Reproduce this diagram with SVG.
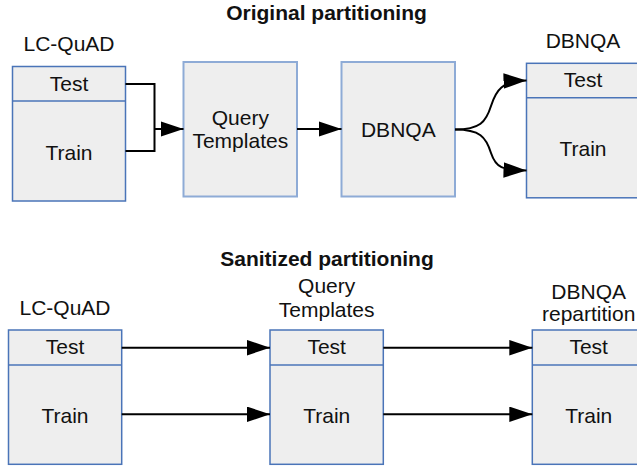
<svg xmlns="http://www.w3.org/2000/svg" width="637" height="467" viewBox="0 0 637 467">
  <style>
    .box { fill: #eeeeee; stroke: #4a74b8; stroke-width: 1.5; }
    .box-soft { fill: #eeeeee; stroke: #8eabd6; stroke-width: 2; }
    .div { stroke: #4a74b8; stroke-width: 1.5; fill: none; }
    .lbl { font-family: "Liberation Sans", Arial, sans-serif; font-size: 21px; fill: #111111; text-anchor: middle; }
    .title { font-family: "Liberation Sans", Arial, sans-serif; font-size: 21px; font-weight: bold; fill: #111111; text-anchor: middle; }
    .edge { stroke: #000000; stroke-width: 2; fill: none; }
  </style>
  <defs>
    <marker id="block" markerUnits="userSpaceOnUse" markerWidth="24" markerHeight="16" refX="23" refY="7.75" orient="auto">
      <path d="M0,0 L23,7.75 L0,15.5 z" fill="#000000"/>
    </marker>
  </defs>
  <rect width="637" height="467" fill="#ffffff"/>

  <!-- Section titles -->
  <text class="title" x="326.5" y="20">Original partitioning</text>
  <text class="title" x="327" y="266">Sanitized partitioning</text>

  <!-- Original: LC-QuAD split -->
  <g id="lcquad-orig">
    <text class="lbl" x="69" y="51">LC-QuAD</text>
    <rect class="box" x="12.5" y="66.5" width="113" height="134.5"/>
    <line class="div" x1="12.5" y1="101" x2="125.5" y2="101"/>
    <text class="lbl" x="69" y="91">Test</text>
    <text class="lbl" x="69" y="159.5">Train</text>
  </g>

  <!-- Original: Query Templates -->
  <g id="templates-orig">
    <rect class="box-soft" x="183.5" y="62" width="113.5" height="134.5"/>
    <text class="lbl" x="240.3" y="125">Query</text>
    <text class="lbl" x="240.3" y="148.3">Templates</text>
  </g>

  <!-- Original: DBNQA -->
  <g id="dbnqa-orig">
    <rect class="box-soft" x="341.5" y="62" width="113.5" height="134.5"/>
    <text class="lbl" x="398.3" y="136.7">DBNQA</text>
  </g>

  <!-- Original: DBNQA split -->
  <g id="dbnqa-split-orig">
    <text class="lbl" x="583" y="48.3">DBNQA</text>
    <rect class="box" x="526.5" y="63.3" width="113" height="134.5"/>
    <line class="div" x1="526.5" y1="97.7" x2="639.5" y2="97.7"/>
    <text class="lbl" x="583" y="87.3">Test</text>
    <text class="lbl" x="583" y="156">Train</text>
  </g>

  <!-- Sanitized: LC-QuAD split -->
  <g id="lcquad-san">
    <text class="lbl" x="65" y="315">LC-QuAD</text>
    <rect class="box" x="8.5" y="330" width="113.2" height="134.3"/>
    <line class="div" x1="8.5" y1="365" x2="121.7" y2="365"/>
    <text class="lbl" x="65" y="354">Test</text>
    <text class="lbl" x="65" y="422.7">Train</text>
  </g>

  <!-- Sanitized: Query Templates split -->
  <g id="templates-san">
    <text class="lbl" x="326.7" y="293">Query</text>
    <text class="lbl" x="326.7" y="317.3">Templates</text>
    <rect class="box" x="270" y="330" width="113.3" height="134.3"/>
    <line class="div" x1="270" y1="365" x2="383.3" y2="365"/>
    <text class="lbl" x="326.7" y="354">Test</text>
    <text class="lbl" x="326.7" y="422.7">Train</text>
  </g>

  <!-- Sanitized: DBNQA repartition split -->
  <g id="dbnqa-san">
    <text class="lbl" x="588.7" y="299.3">DBNQA</text>
    <text class="lbl" x="588.7" y="321">repartition</text>
    <rect class="box" x="532.3" y="330" width="113.3" height="134.3"/>
    <line class="div" x1="532.3" y1="365" x2="645.6" y2="365"/>
    <text class="lbl" x="588.7" y="354">Test</text>
    <text class="lbl" x="588.7" y="422.7">Train</text>
  </g>

  <!-- Connectors -->
  <g id="edges">
    <polyline class="edge" points="125.5,84 154.5,84 154.5,151 125.5,151"/>
    <line class="edge" x1="154.5" y1="129" x2="183.5" y2="129" marker-end="url(#block)"/>
    <line class="edge" x1="297" y1="129" x2="341.5" y2="129" marker-end="url(#block)"/>
    <path class="edge" d="M455,129.5 C480,129.5 486,122 491,106 C496,90 502,81 526.5,80.5" marker-end="url(#block)"/>
    <path class="edge" d="M455,129.5 C480,129.5 486,137 491,153 C496,168 502,170 526.5,170.5" marker-end="url(#block)"/>

    <line class="edge" x1="121.7" y1="347.7" x2="270" y2="347.7" marker-end="url(#block)"/>
    <line class="edge" x1="121.7" y1="414.3" x2="270" y2="414.3" marker-end="url(#block)"/>
    <line class="edge" x1="383.3" y1="347.7" x2="532.3" y2="347.7" marker-end="url(#block)"/>
    <line class="edge" x1="383.3" y1="414.3" x2="532.3" y2="414.3" marker-end="url(#block)"/>
  </g>
</svg>
